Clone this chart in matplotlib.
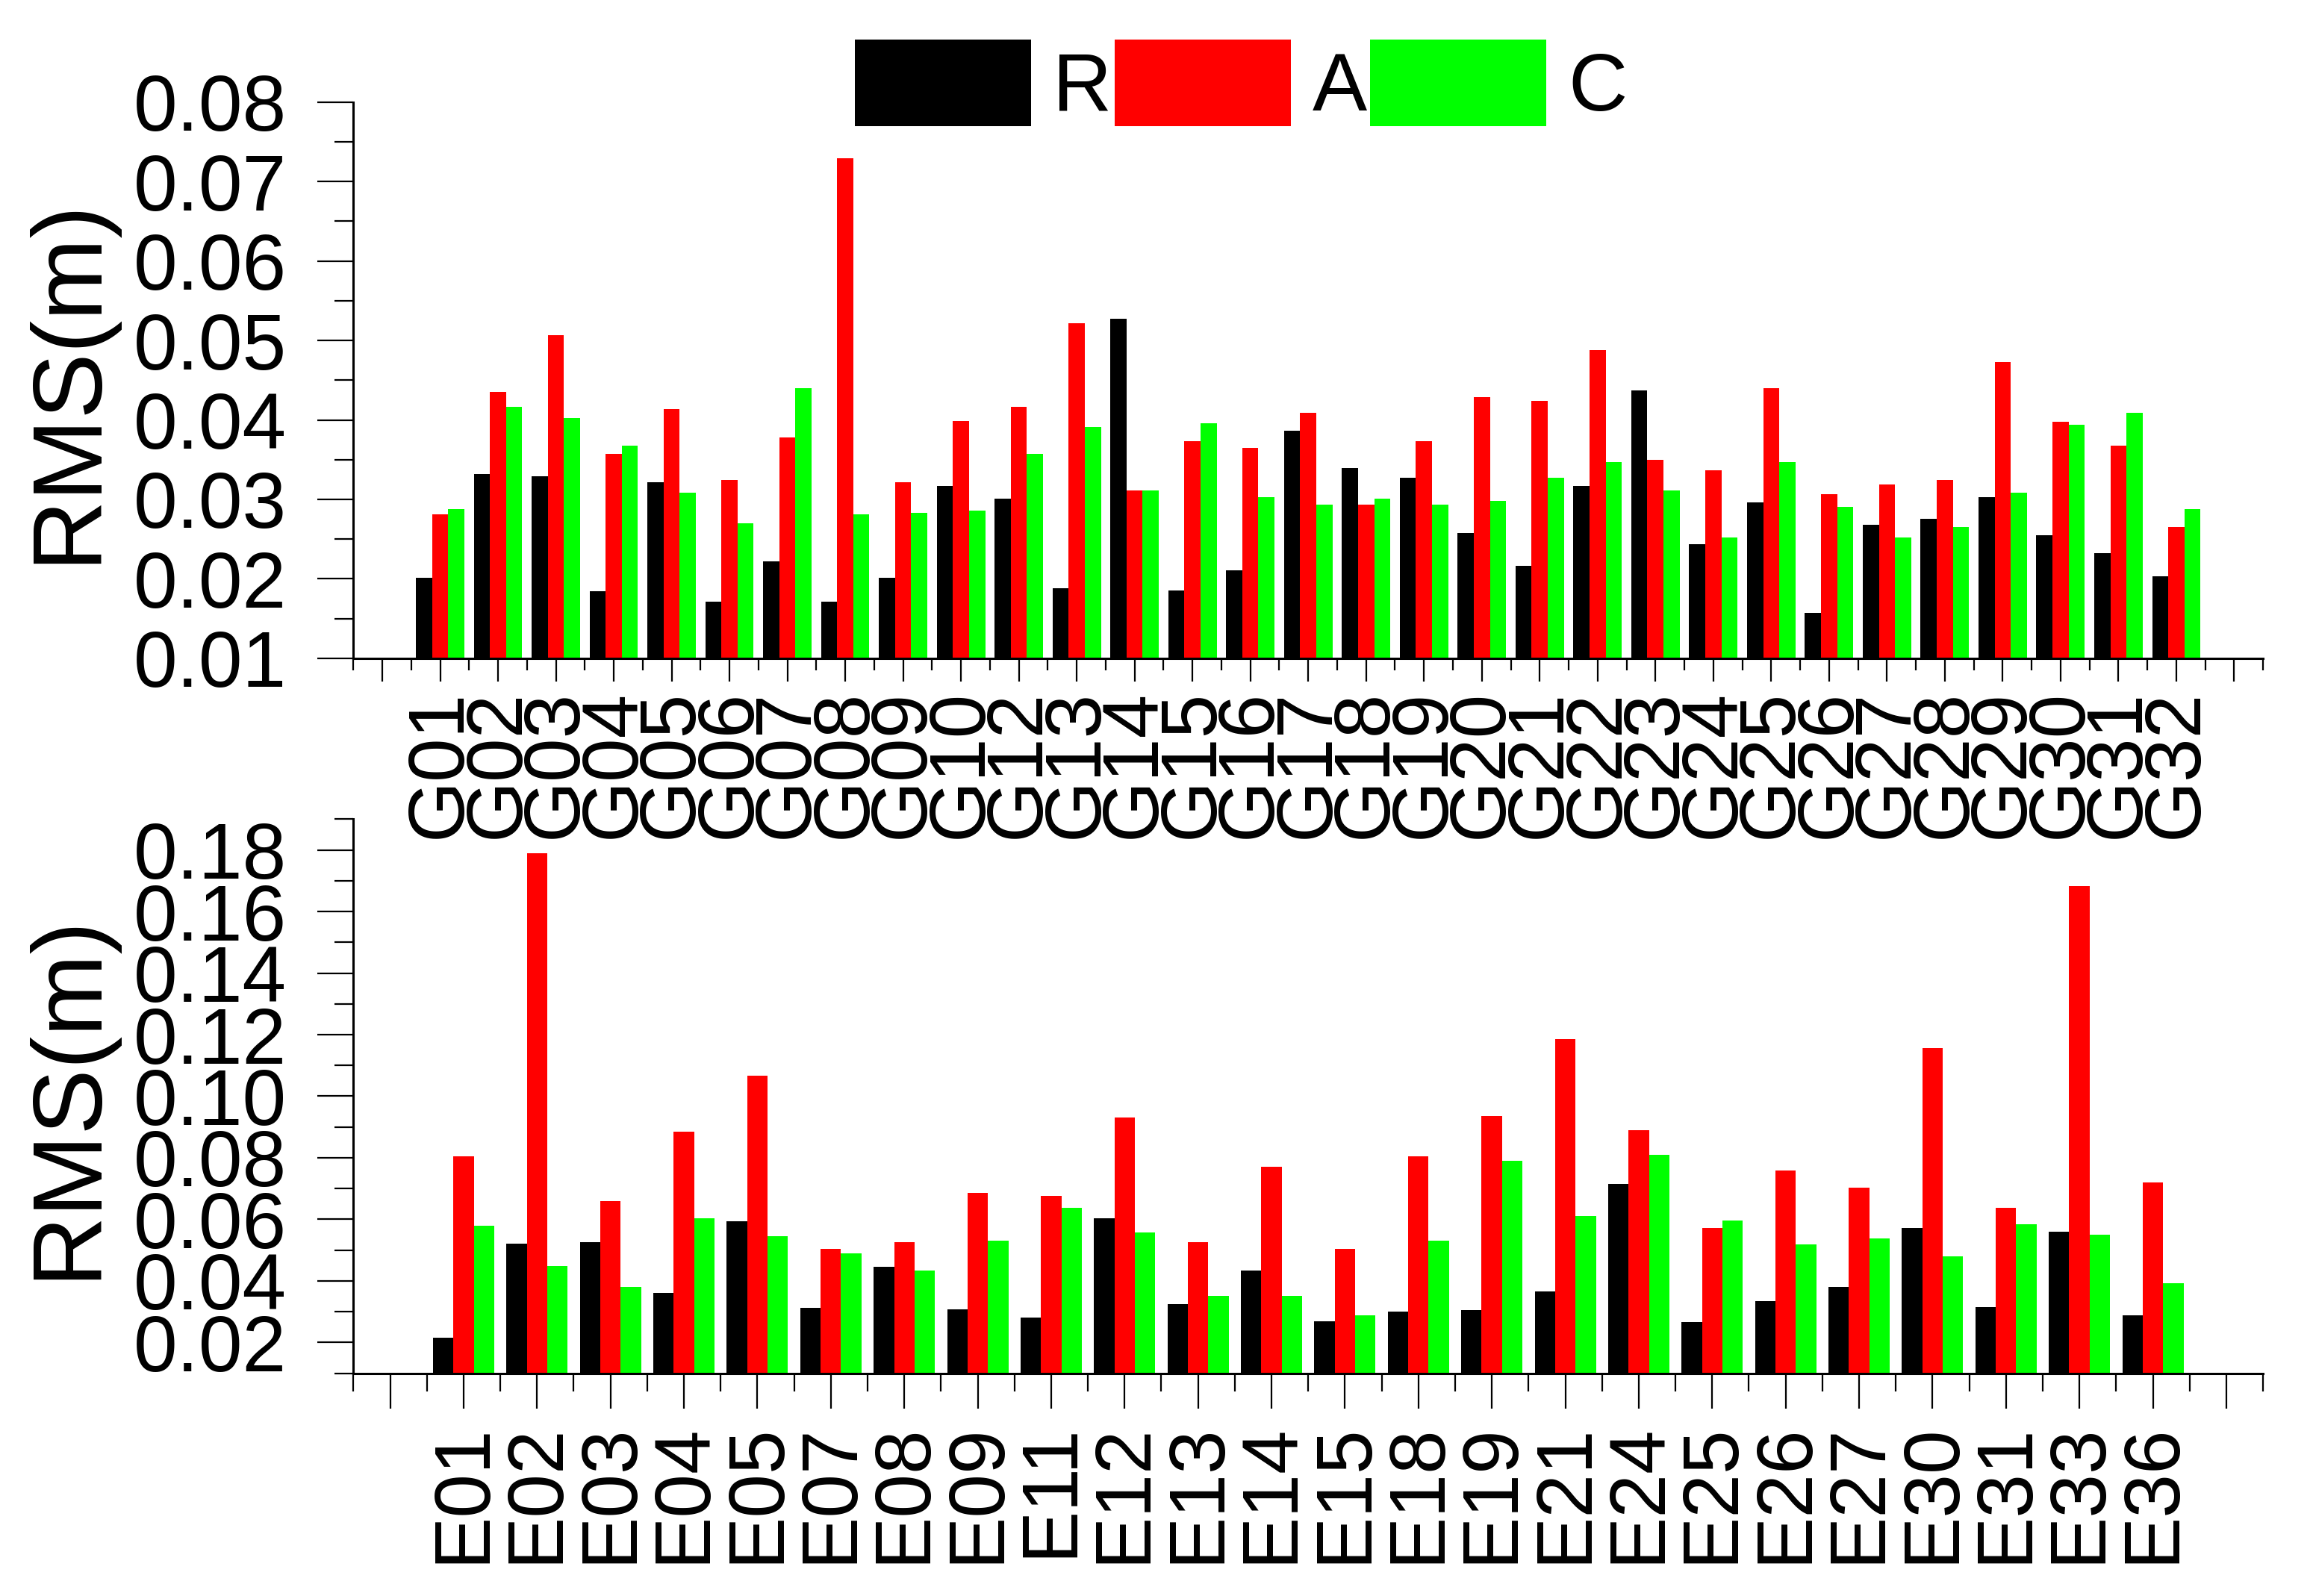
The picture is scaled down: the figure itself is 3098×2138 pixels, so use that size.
import matplotlib.pyplot as plt
import numpy as np

plt.rcParams['font.family'] = ['Liberation Sans', 'DejaVu Sans']

# GPS satellites (top panel)
gps_names = ['G01', 'G02', 'G03', 'G04', 'G05', 'G06', 'G07', 'G08', 'G09', 'G10',
             'G12', 'G13', 'G14', 'G15', 'G16', 'G17', 'G18', 'G19', 'G20', 'G21',
             'G22', 'G23', 'G24', 'G25', 'G26', 'G27', 'G28', 'G29', 'G30', 'G31', 'G32']
gps_r = [0.0201, 0.0332, 0.0329, 0.0184, 0.0322, 0.0171, 0.0222, 0.0171, 0.0201, 0.0317,
         0.0301, 0.0188, 0.0527, 0.0185, 0.0211, 0.0386, 0.0339, 0.0327, 0.0258, 0.0216,
         0.0317, 0.0437, 0.0244, 0.0296, 0.0157, 0.0268, 0.0276, 0.0303, 0.0255, 0.0232, 0.0203]
gps_a = [0.0281, 0.0435, 0.0507, 0.0357, 0.0414, 0.0324, 0.0378, 0.0729, 0.0322, 0.0399,
         0.0416, 0.0522, 0.0311, 0.0373, 0.0365, 0.0409, 0.0293, 0.0373, 0.0429, 0.0424,
         0.0488, 0.0350, 0.0337, 0.0440, 0.0307, 0.0319, 0.0324, 0.0473, 0.0398, 0.0368, 0.0265]
gps_c = [0.0288, 0.0416, 0.0402, 0.0368, 0.0308, 0.0270, 0.0440, 0.0281, 0.0283, 0.0286,
         0.0357, 0.0391, 0.0311, 0.0396, 0.0303, 0.0293, 0.0301, 0.0293, 0.0298, 0.0327,
         0.0347, 0.0311, 0.0252, 0.0347, 0.0291, 0.0252, 0.0265, 0.0308, 0.0394, 0.0409, 0.0288]

# Galileo satellites (bottom panel)
gal_names = ['E01', 'E02', 'E03', 'E04', 'E05', 'E07', 'E08', 'E09', 'E11', 'E12', 'E13', 'E14',
             'E15', 'E18', 'E19', 'E21', 'E24', 'E25', 'E26', 'E27', 'E30', 'E31', 'E33', 'E36']
gal_r = [0.0215, 0.0521, 0.0525, 0.0360, 0.0594, 0.0313, 0.0446, 0.0307, 0.0281, 0.0604, 0.0324, 0.0433,
         0.0268, 0.0300, 0.0306, 0.0366, 0.0714, 0.0266, 0.0334, 0.0381, 0.0571, 0.0315, 0.0559, 0.0288]
gal_a = [0.0805, 0.1789, 0.0659, 0.0885, 0.1067, 0.0505, 0.0525, 0.0685, 0.0675, 0.0930, 0.0525, 0.0771,
         0.0505, 0.0805, 0.0936, 0.1185, 0.0889, 0.0573, 0.0758, 0.0704, 0.1157, 0.0638, 0.1683, 0.0721]
gal_c = [0.0579, 0.0447, 0.0380, 0.0604, 0.0546, 0.0489, 0.0433, 0.0531, 0.0638, 0.0557, 0.0352, 0.0352,
         0.0287, 0.0531, 0.0790, 0.0611, 0.0810, 0.0596, 0.0519, 0.0539, 0.0480, 0.0584, 0.0551, 0.0393]

series = ['R', 'A', 'C']
colors = ['#000000', '#ff0000', '#00ff00']

fig = plt.figure(figsize=(30.98, 21.38), dpi=100)
ax1 = fig.add_axes([0.1528, 0.5875, 0.8256, 0.3486])
ax2 = fig.add_axes([0.1528, 0.1396, 0.8256, 0.3471])
# the G labels hang down over the lower panel, keep them visible
ax2.patch.set_alpha(0)
ax1.set_zorder(3)

w = 0.278


def draw(ax, names, r, a, c, ylim, major, minor, xlen, xpad):
    n = len(names)
    x = np.arange(n)
    bars = []
    for k, (vals, col) in enumerate(zip([r, a, c], colors)):
        bars.append(ax.bar(x + (k - 1) * w, vals, w, color=col, linewidth=0))
    ax.set_xlim(-1.5, n + 0.5)
    ax.set_ylim(*ylim)
    ax.set_xticks(np.arange(-1, n + 1))
    ax.set_xticklabels([''] + names + [''], rotation=90)
    ax.set_xticks(np.arange(-1.5, n + 1, 1.0), minor=True)
    ax.set_yticks(major)
    ax.set_yticklabels(['%.2f' % v for v in major])
    ax.set_yticks(minor, minor=True)
    for s in ['top', 'right']:
        ax.spines[s].set_visible(False)
    for s in ['left', 'bottom']:
        ax.spines[s].set_linewidth(2.2)
    ax.tick_params(axis='y', which='major', length=34.5, width=1.6, pad=30, labelsize=76)
    ax.tick_params(axis='y', which='minor', length=18, width=1.6)
    ax.tick_params(axis='x', which='major', length=xlen[0], width=1.6, pad=xpad, labelsize=76)
    ax.tick_params(axis='x', which='minor', length=xlen[1], width=1.6)
    ax.set_ylabel('RMS(m)', fontsize=95)
    ax.yaxis.set_label_coords(-0.1253, 0.5)
    return bars


bars = draw(ax1, gps_names, gps_r, gps_a, gps_c, (0.01, 0.08),
            np.arange(0.01, 0.0801, 0.01), np.arange(0.015, 0.08, 0.01), (22, 11.5), 8)
draw(ax2, gal_names, gal_r, gal_a, gal_c, (0.01, 0.19),
     np.arange(0.02, 0.1801, 0.02), np.arange(0.01, 0.1901, 0.02), (34, 17), 14)

fig.legend(bars, series, loc='center', bbox_to_anchor=(0.5365, 0.9476), ncol=3,
           frameon=False, fontsize=79, handlelength=2.15, handleheight=1.245,
           handletextpad=0.27, columnspacing=0.03, borderpad=0)

fig.savefig('out.png', dpi=100)
